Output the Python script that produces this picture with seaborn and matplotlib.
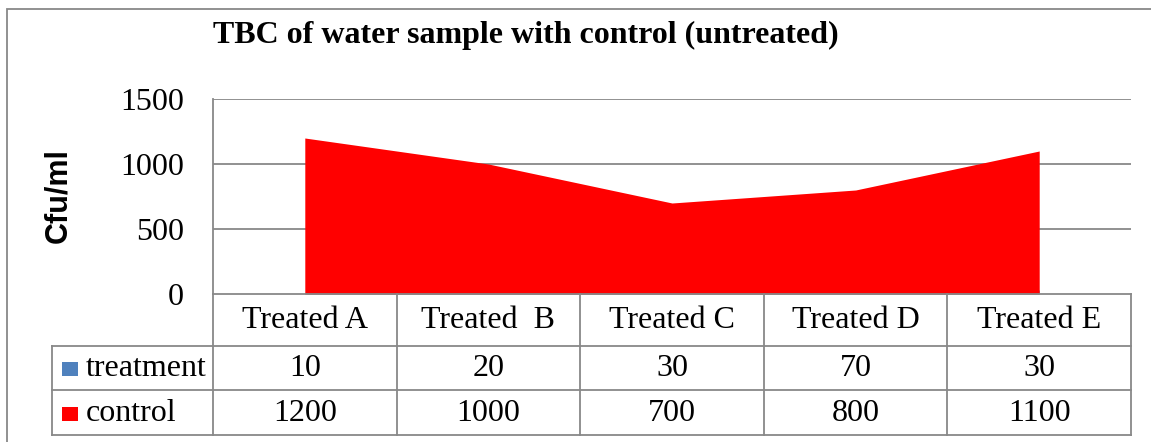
import matplotlib
matplotlib.use("Agg")
import matplotlib.pyplot as plt
import seaborn as sns
import pandas as pd
from matplotlib.patches import Rectangle


# chart data
categories = ["Treated A", "Treated  B", "Treated C", "Treated D", "Treated E"]
treatment = [10, 20, 30, 70, 30]
control = [1200, 1000, 700, 800, 1100]
series_names = ["treatment", "control"]
series_colors = ["#4F81BD", "#FF0000"]
y_ticks = [0, 500, 1000, 1500]

df = pd.DataFrame({"category": categories, "pos": range(len(categories)),
                   "treatment": treatment, "control": control})

sns.set_style("white")
plt.rcParams["font.family"] = ["Liberation Serif", "DejaVu Serif"]
plt.rcParams["text.color"] = "black"
plt.rcParams["ytick.color"] = "black"

W, H = 1151, 442
fig = plt.figure(figsize=(W / 100, H / 100), dpi=100)
GRID = "#888888"
FS = 23


def fx(px):
    return px / W


def fy(py):
    return 1 - py / H


# outer chart border (only top and left inside the crop)
fig.add_artist(Rectangle((fx(7), -0.1), 1.2, fy(9) + 0.1, transform=fig.transFigure,
                         fill=False, edgecolor=GRID, linewidth=1.3))

# plot area
left, right, top, bottom = 213, 1131, 99, 294
ax = fig.add_axes([fx(left), fy(bottom), fx(right - left), (bottom - top) / H])
n = len(categories)
for name, color, z in zip(series_names, series_colors, [2, 3]):
    sns.lineplot(data=df, x="pos", y=name, ax=ax, color=color, linewidth=0, zorder=z)
    ax.fill_between(df["pos"], 0, df[name], color=color, linewidth=0, zorder=z)
ax.set_xlim(-0.5, n - 0.5)
ax.set_ylim(0, 1500)
ax.set_yticks(y_ticks)
ax.set_yticklabels([str(t) for t in y_ticks], fontsize=FS, color="black")
ax.set_xticks([])
ax.set_xlabel("")
ax.set_ylabel("")
ax.tick_params(axis="y", length=0, pad=21)
for t in y_ticks[1:]:
    ax.axhline(t, color=GRID, linewidth=1.3, zorder=1)
for s in ["top", "right", "bottom"]:
    ax.spines[s].set_visible(False)
ax.spines["left"].set_color(GRID)
ax.spines["left"].set_linewidth(1.3)

# y label
fig.text(fx(58), fy(196), "Cfu/ml", rotation=90, ha="center", va="center",
         fontsize=22, fontweight="bold", fontstretch="condensed",
         family=["Liberation Sans Narrow", "Liberation Sans", "DejaVu Sans"])

# title
fig.text(fx(526), fy(43), "TBC of water sample with control (untreated)",
         ha="center", va="baseline", fontsize=FS, fontweight="bold")

# data table below the plot
t_left, t_bottom = 52, 435
rows = [294, 346, 390, 435]
label_w = (left - t_left) / ((right - left) / n)
tax = fig.add_axes([fx(t_left), fy(t_bottom), fx(right - t_left), (t_bottom - bottom) / H])
tax.set_xlim(-0.5 - label_w, n - 0.5)
tax.set_ylim(t_bottom, bottom)
tax.axis("off")
lk = dict(color=GRID, linewidth=1.3, solid_capstyle="projecting", clip_on=False)
tax.plot([-0.5, n - 0.5], [rows[0], rows[0]], **lk)
for r in rows[1:]:
    tax.plot([-0.5 - label_w, n - 0.5], [r, r], **lk)
tax.plot([-0.5 - label_w, -0.5 - label_w], [rows[1], rows[3]], **lk)
for i in range(n + 1):
    tax.plot([i - 0.5, i - 0.5], [rows[0], rows[3]], **lk)

for i, c in enumerate(categories):
    tax.text(i, (rows[0] + rows[1]) / 2 + 1, c, ha="center", va="center", fontsize=FS)
for j, (name, color) in enumerate(zip(series_names, series_colors)):
    yc = (rows[j + 1] + rows[j + 2]) / 2 + 1
    for i, v in enumerate(df[name]):
        tax.text(i, yc, str(v), ha="center", va="center", fontsize=FS)
    fig.patches.append(Rectangle((fx(62), fy(yc + 7)), fx(16), 14 / H,
                                 transform=fig.transFigure, facecolor=color, edgecolor="none"))
    fig.text(fx(86), fy(yc), name, ha="left", va="center", fontsize=FS)

fig.savefig("out.png", dpi=100)
